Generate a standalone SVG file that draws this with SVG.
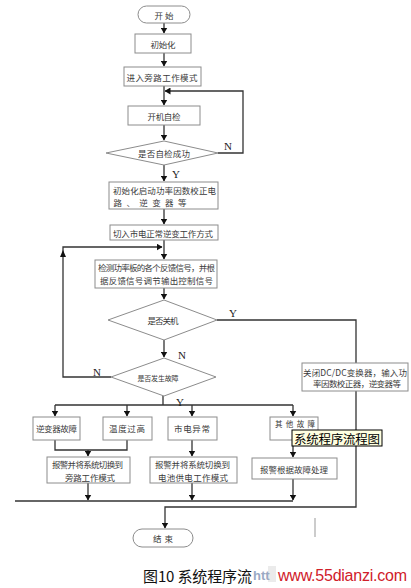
<svg xmlns="http://www.w3.org/2000/svg" width="411" height="588" viewBox="0 0 411 588">
<defs>
<style>
.n{fill:#fff;stroke:#8c8c8c;stroke-width:1}
.t{font-family:"Noto Sans CJK SC","Noto Sans",sans-serif;font-size:8.5px;fill:#3a3a3a;text-anchor:middle;dominant-baseline:central}
.l{font-family:"Liberation Serif",serif;font-size:11px;fill:#222;text-anchor:middle;dominant-baseline:central}
.c{fill:none;stroke:#333;stroke-width:1.3}
</style>
<marker id="a" markerWidth="6" markerHeight="7" refX="5.5" refY="3.5" orient="auto" markerUnits="userSpaceOnUse">
<path d="M0,0 L6,3.5 L0,7 Z" fill="#111"/>
</marker>
</defs>
<rect width="411" height="588" fill="#fff"/>

<g id="connectors">
<path class="c" d="M164,23 V33" marker-end="url(#a)"/>
<path class="c" d="M164,53 V66" marker-end="url(#a)"/>
<path class="c" d="M164,86 V105" marker-end="url(#a)"/>
<path class="c" d="M164,125 V140" marker-end="url(#a)"/>
<path class="c" d="M218,153 H243 V91 H165" marker-end="url(#a)"/>
<path class="c" d="M164,165 V181" marker-end="url(#a)"/>
<path class="c" d="M164,209 V224" marker-end="url(#a)"/>
<path class="c" d="M164,240 V259" marker-end="url(#a)"/>
<path class="c" d="M111,377 H63 V247 H162" marker-end="url(#a)"/>
<path d="M60,257 L63,250 L66,257 Z" fill="#111"/>
<path class="c" d="M164,288 V299" marker-end="url(#a)"/>
<path class="c" d="M217,320 H356 V363"/>
<path class="c" d="M164,340 V357" marker-end="url(#a)"/>
<path class="c" d="M163,396 V405 M55,405 H293"/>
<path class="c" d="M55,405 V416" marker-end="url(#a)"/>
<path class="c" d="M127,405 V416" marker-end="url(#a)"/>
<path class="c" d="M192,405 V416" marker-end="url(#a)"/>
<path class="c" d="M293,405 V416" marker-end="url(#a)"/>
<path class="c" d="M55,440 V450 H127 V440"/>
<path class="c" d="M88,450 V456" marker-end="url(#a)"/>
<path class="c" d="M192,440 V456" marker-end="url(#a)"/>
<path class="c" d="M293,440 V457" marker-end="url(#a)"/>
<path class="c" d="M88,483 V500" marker-end="url(#a)"/>
<path class="c" d="M192,483 V500" marker-end="url(#a)"/>
<path class="c" d="M293,479 V500" marker-end="url(#a)"/>
<path class="c" d="M15,501 H293"/>
<path class="c" d="M356,391 V507 H165 V528" marker-end="url(#a)"/>
<text class="l" x="228" y="146">N</text>
<text class="l" x="176" y="174">Y</text>
<text class="l" x="233" y="313">Y</text>
<text class="l" x="182" y="355">N</text>
<text class="l" x="97" y="372">N</text>
<text class="l" x="180" y="402">Y</text>
</g>

<g id="start"><rect class="n" x="138" y="6" width="52" height="17" rx="8.5"/><text class="t" x="164" y="14.5" textLength="19">开始</text></g>
<g id="init"><rect class="n" x="135" y="34" width="56" height="19"/><text class="t" x="163" y="43.5" textLength="25">初始化</text></g>
<g id="bypass"><rect class="n" x="124" y="67" width="77" height="19"/><text class="t" x="162" y="76.5" textLength="71">进入旁路工作模式</text></g>
<g id="selftest"><rect class="n" x="128" y="106" width="72" height="19"/><text class="t" x="164" y="115.5" textLength="33">开机自检</text></g>
<g id="dec1"><polygon class="n" points="164,141 218,153 164,165 106,153"/><text class="t" x="164" y="153" textLength="52">是否自检成功</text></g>
<g id="initpfc"><rect class="n" x="109" y="182" width="109" height="27"/>
<text class="t" x="164.5" y="190" textLength="103">初始化启动功率因数校正电</text>
<text class="t" x="150" y="202" textLength="73">路、逆变器等</text></g>
<g id="mains"><rect class="n" x="110" y="225" width="108" height="15"/><text class="t" x="163" y="232.5" textLength="100">切入市电正常逆变工作方式</text></g>
<g id="detect"><rect class="n" x="95" y="260" width="122" height="28"/>
<text class="t" x="156.5" y="267" textLength="117">检测功率板的各个反馈信号，并根</text>
<text class="t" x="156.5" y="280" textLength="113">据反馈信号调节输出控制信号</text></g>
<g id="dec2"><polygon class="n" points="164,300 217,320 164,340 108,320"/><text class="t" x="163" y="320" textLength="31">是否关机</text></g>
<g id="dec3"><polygon class="n" points="164,358 216,377 164,396 111,377"/><text class="t" x="158" y="378" style="font-size:7px" textLength="41">是否发生故障</text></g>
<g id="shutdown"><rect class="n" x="302" y="363" width="106" height="28"/>
<text class="t" x="355" y="372" textLength="104">关闭DC/DC变换器，输入功</text>
<text class="t" x="357" y="383" textLength="88">率因数校正器，逆变器等</text></g>
<g id="f1"><rect class="n" x="33" y="417" width="47" height="23"/><text class="t" x="56.5" y="428" textLength="41">逆变器故障</text></g>
<g id="f2"><rect class="n" x="103" y="417" width="49" height="23"/><text class="t" x="127" y="428" textLength="36">温度过高</text></g>
<g id="f3"><rect class="n" x="168" y="417" width="49" height="23"/><text class="t" x="192" y="428" textLength="36">市电异常</text></g>
<g id="f4"><rect class="n" x="270" y="417" width="48" height="23"/><text class="t" x="295" y="423" style="font-size:7.5px" textLength="40">其他故障</text></g>
<g id="alarm1"><rect class="n" x="47" y="457" width="83" height="26"/>
<text class="t" x="87.5" y="464" textLength="71">报警并将系统切换到</text>
<text class="t" x="90" y="476.5" textLength="50">旁路工作模式</text></g>
<g id="alarm2"><rect class="n" x="150" y="457" width="87" height="26"/>
<text class="t" x="192.5" y="464" textLength="75">报警并将系统切换到</text>
<text class="t" x="193" y="476.5" textLength="70">电池供电工作模式</text></g>
<g id="alarm3"><rect class="n" x="252" y="458" width="85" height="21"/><text class="t" x="294" y="469" textLength="68">报警根据故障处理</text></g>
<g id="end"><rect class="n" x="133" y="529" width="60" height="18" rx="9"/><text class="t" x="163" y="538" textLength="20">结束</text></g>

<line x1="315" y1="518" x2="315" y2="537" stroke="#999" stroke-width="1"/>

<g id="tooltip"><rect x="292" y="430" width="90" height="16" fill="#ffffe1" stroke="#000" stroke-width="1"/>
<text x="337" y="438.5" font-family="Noto Sans CJK SC, sans-serif" font-size="12.5" fill="#000" text-anchor="middle" dominant-baseline="central" textLength="86">系统程序流程图</text></g>

<rect x="268" y="566" width="8" height="16" fill="#ebebeb"/>
<text x="253" y="580" font-family="Liberation Sans, sans-serif" font-weight="bold" font-size="13" fill="#9aaac4">htt</text>
<text x="143" y="582" font-family="Noto Sans CJK SC, sans-serif" font-size="15" fill="#111" textLength="109">图10 系统程序流</text>
<text x="278" y="581" font-family="Liberation Sans, sans-serif" font-size="16" fill="#d0202a" textLength="129">www.55dianzi.com</text>
</svg>
